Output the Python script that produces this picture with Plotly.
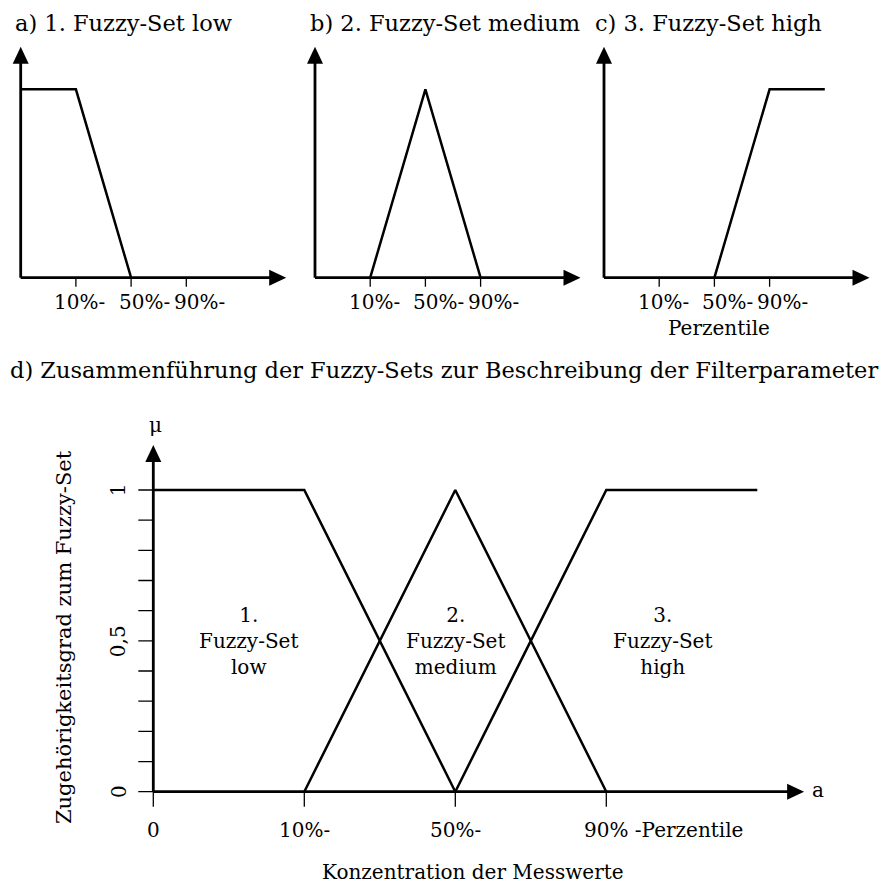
import plotly.graph_objects as go

# ---------------------------------------------------------------------------
# Data: positions along the concentration axis
# (0 = origin, 1 = 10 %, 2 = 50 %, 3 = 90 % percentile, 4 = end of the plateau)
# ---------------------------------------------------------------------------
percentile_ticks = [1, 2, 3]
percentile_labels = ["10%-", "50%-", "90%-"]

low_x = [0, 1, 2]
low_mu = [1, 1, 0]
medium_x = [1, 2, 3]
medium_mu = [0, 1, 0]
high_x = [2, 3, 4]
high_mu = [0, 1, 1]

combined_x_ticks = [0, 1, 2, 3]
combined_x_labels = ["0", "10%-", "50%-", "90% -Perzentile"]
mu_ticks = [0, 0.1, 0.2, 0.3, 0.4, 0.5, 0.6, 0.7, 0.8, 0.9, 1.0]
mu_tick_labels = ["0", "", "", "", "", "0,5", "", "", "", "", "1"]

panel_titles = ["a) 1. Fuzzy-Set low", "b) 2. Fuzzy-Set medium", "c) 3. Fuzzy-Set high"]
combined_title = "d) Zusammenführung der Fuzzy-Sets zur Beschreibung der Filterparameter"
set_labels = ["1.<br>Fuzzy-Set<br>low", "2.<br>Fuzzy-Set<br>medium", "3.<br>Fuzzy-Set<br>high"]
x_axis_title = "Konzentration der Messwerte"
y_axis_title = "Zugehörigkeitsgrad zum Fuzzy-Set"

# ---------------------------------------------------------------------------
# Layout constants (pixels)
# ---------------------------------------------------------------------------
W, H = 879, 886
FONT = "DejaVu Serif"
AXIS_W = 2.8
CURVE_W = 2.5
TICK_W = 1.3
HEAD_LEN, HEAD_HALF = 17, 8
MARGIN_PX = 22

TOP_OY, TOP_UX, TOP_UY = 277.7, 55.2, 188.4
TOP_OX = [20.7, 315.0, 604.0]
TOP_TITLE_LEFT = [12.7, 308.0, 593.0]
TOP_XTIP, TOP_YTIP = 4.81, 1.226
BOT_OX, BOT_OY, BOT_UX, BOT_UY = 153.3, 791.7, 151.0, 301.7
BOT_XTIP, BOT_YTIP = 4.31, 1.149

fig = go.Figure()
layout = dict(
    width=W, height=H, margin=dict(l=0, r=0, t=0, b=0),
    paper_bgcolor="white", plot_bgcolor="white", showlegend=False,
    font=dict(family=FONT, color="black", size=20),
)
annotations = []


def line_trace(xa, ya, xs, ys, width):
    fig.add_trace(go.Scatter(x=xs, y=ys, mode="lines",
                             line=dict(color="black", width=width),
                             xaxis=xa, yaxis=ya, hoverinfo="skip"))


def fill_trace(xa, ya, xs, ys):
    fig.add_trace(go.Scatter(x=xs, y=ys, mode="lines", fill="toself",
                             fillcolor="black", line=dict(color="black", width=0),
                             xaxis=xa, yaxis=ya, hoverinfo="skip"))


def add_panel(n, ox, oy, ux, uy, xtip, ytip, xticks, yticks, ticklen):
    """Axes n with its data origin at pixel (ox, oy); draws arrowed axes and ticks."""
    xa = "x" if n == 1 else f"x{n}"
    ya = "y" if n == 1 else f"y{n}"
    x0, x1 = -min(MARGIN_PX, ox - 0.5) / ux, xtip + 2 / ux
    y0, y1 = -MARGIN_PX / uy, ytip + 2 / uy
    xdom = [(ox + x0 * ux) / W, (ox + x1 * ux) / W]
    ydom = [1 - (oy - y0 * uy) / H, 1 - (oy - y1 * uy) / H]
    hidden = dict(visible=False, showgrid=False, zeroline=False, fixedrange=True)
    layout["xaxis" if n == 1 else f"xaxis{n}"] = dict(hidden, domain=xdom, range=[x0, x1], anchor=ya)
    layout["yaxis" if n == 1 else f"yaxis{n}"] = dict(hidden, domain=ydom, range=[y0, y1], anchor=xa)

    # tick marks
    tx, ty = [], []
    for t in xticks:
        tx += [t, t, None]
        ty += [0, -ticklen / uy, None]
    for t in yticks:
        tx += [0, -ticklen / ux, None]
        ty += [t, t, None]
    if tx:
        line_trace(xa, ya, tx, ty, TICK_W)

    # axis lines
    line_trace(xa, ya, [0, xtip - 8 / ux], [0, 0], AXIS_W)
    line_trace(xa, ya, [0, 0], [0, ytip - 8 / uy], AXIS_W)
    # arrow heads
    hx, hy = HEAD_LEN / ux, HEAD_HALF / uy
    fill_trace(xa, ya, [xtip, xtip - hx, xtip - hx, xtip], [0, hy, -hy, 0])
    hx, hy = HEAD_HALF / ux, HEAD_LEN / uy
    fill_trace(xa, ya, [0, -hx, hx, 0], [ytip, ytip - hy, ytip - hy, ytip])
    return xa, ya


# ---------------------------------------------------------------------------
# a) - c): single fuzzy sets
# ---------------------------------------------------------------------------
single_sets = [(low_x, low_mu), (medium_x, medium_mu), (high_x, high_mu)]
label_shift = [4, 13, 13]
for i, (xs, ys) in enumerate(single_sets):
    xa, ya = add_panel(i + 1, TOP_OX[i], TOP_OY, TOP_UX, TOP_UY,
                       TOP_XTIP, TOP_YTIP, percentile_ticks, [], 9)
    line_trace(xa, ya, xs, ys, CURVE_W)
    for j, (tv, tt) in enumerate(zip(percentile_ticks, percentile_labels)):
        annotations.append(dict(x=tv, y=0, xref=xa, yref=ya, text=tt,
                                showarrow=False, xanchor="center",
                                yanchor="middle", xshift=label_shift[j],
                                yshift=-24.3, font=dict(size=20)))
    annotations.append(dict(x=TOP_TITLE_LEFT[i] / W, y=1 - 23 / H,
                            xref="paper", yref="paper", text=panel_titles[i],
                            showarrow=False, xanchor="left", yanchor="middle",
                            font=dict(size=22.5)))
    if i == 2:
        annotations.append(dict(x=percentile_ticks[1], y=0, xref=xa, yref=ya,
                                text="Perzentile", showarrow=False,
                                xanchor="center", yanchor="middle",
                                xshift=5, yshift=-50.3, font=dict(size=20)))

# ---------------------------------------------------------------------------
# d): combined fuzzy sets
# ---------------------------------------------------------------------------
xa, ya = add_panel(4, BOT_OX, BOT_OY, BOT_UX, BOT_UY, BOT_XTIP, BOT_YTIP,
                   combined_x_ticks, mu_ticks, 15)
for xs, ys in single_sets:
    line_trace(xa, ya, xs, ys, CURVE_W)

for tv, tt in zip(combined_x_ticks, combined_x_labels):
    last = tt.endswith("Perzentile")
    annotations.append(dict(x=tv, y=0, xref=xa, yref=ya, text=tt,
                            showarrow=False,
                            xanchor="left" if last else "center",
                            xshift=-24 if last else 0,
                            yanchor="middle", yshift=-38.3,
                            font=dict(size=20)))
for tv, tt in zip(mu_ticks, mu_tick_labels):
    if tt:
        annotations.append(dict(x=0, y=tv, xref=xa, yref=ya, text=tt,
                                showarrow=False, textangle=-90,
                                xanchor="center", yanchor="middle",
                                xshift=-35, font=dict(size=20)))

set_label_x = [0.63, 2.0, 3.37]
for lx, txt in zip(set_label_x, set_labels):
    annotations.append(dict(x=lx, y=0.5, xref=xa, yref=ya, text=txt,
                            showarrow=False, align="center",
                            xanchor="center", yanchor="middle",
                            font=dict(size=20)))

annotations += [
    dict(x=0, y=BOT_YTIP, xref=xa, yref=ya, text="μ", showarrow=False,
         xanchor="center", yanchor="middle", yshift=20, xshift=2,
         font=dict(size=20)),
    dict(x=BOT_XTIP, y=0, xref=xa, yref=ya, text="a", showarrow=False,
         xanchor="center", yanchor="middle", xshift=14, yshift=2,
         font=dict(size=20)),
    dict(x=473 / W, y=1 - 872 / H, xref="paper", yref="paper",
         text=x_axis_title, showarrow=False, xanchor="center",
         yanchor="middle", font=dict(size=20)),
    dict(x=64 / W, y=1 - 637 / H, xref="paper", yref="paper",
         text=y_axis_title, showarrow=False, textangle=-90,
         xanchor="center", yanchor="middle", font=dict(size=21)),
    dict(x=8 / W, y=1 - 370 / H, xref="paper", yref="paper",
         text=combined_title, showarrow=False, xanchor="left",
         yanchor="middle", font=dict(size=22.5)),
]

layout["annotations"] = annotations
fig.update_layout(**layout)
fig.write_html("out.html")
